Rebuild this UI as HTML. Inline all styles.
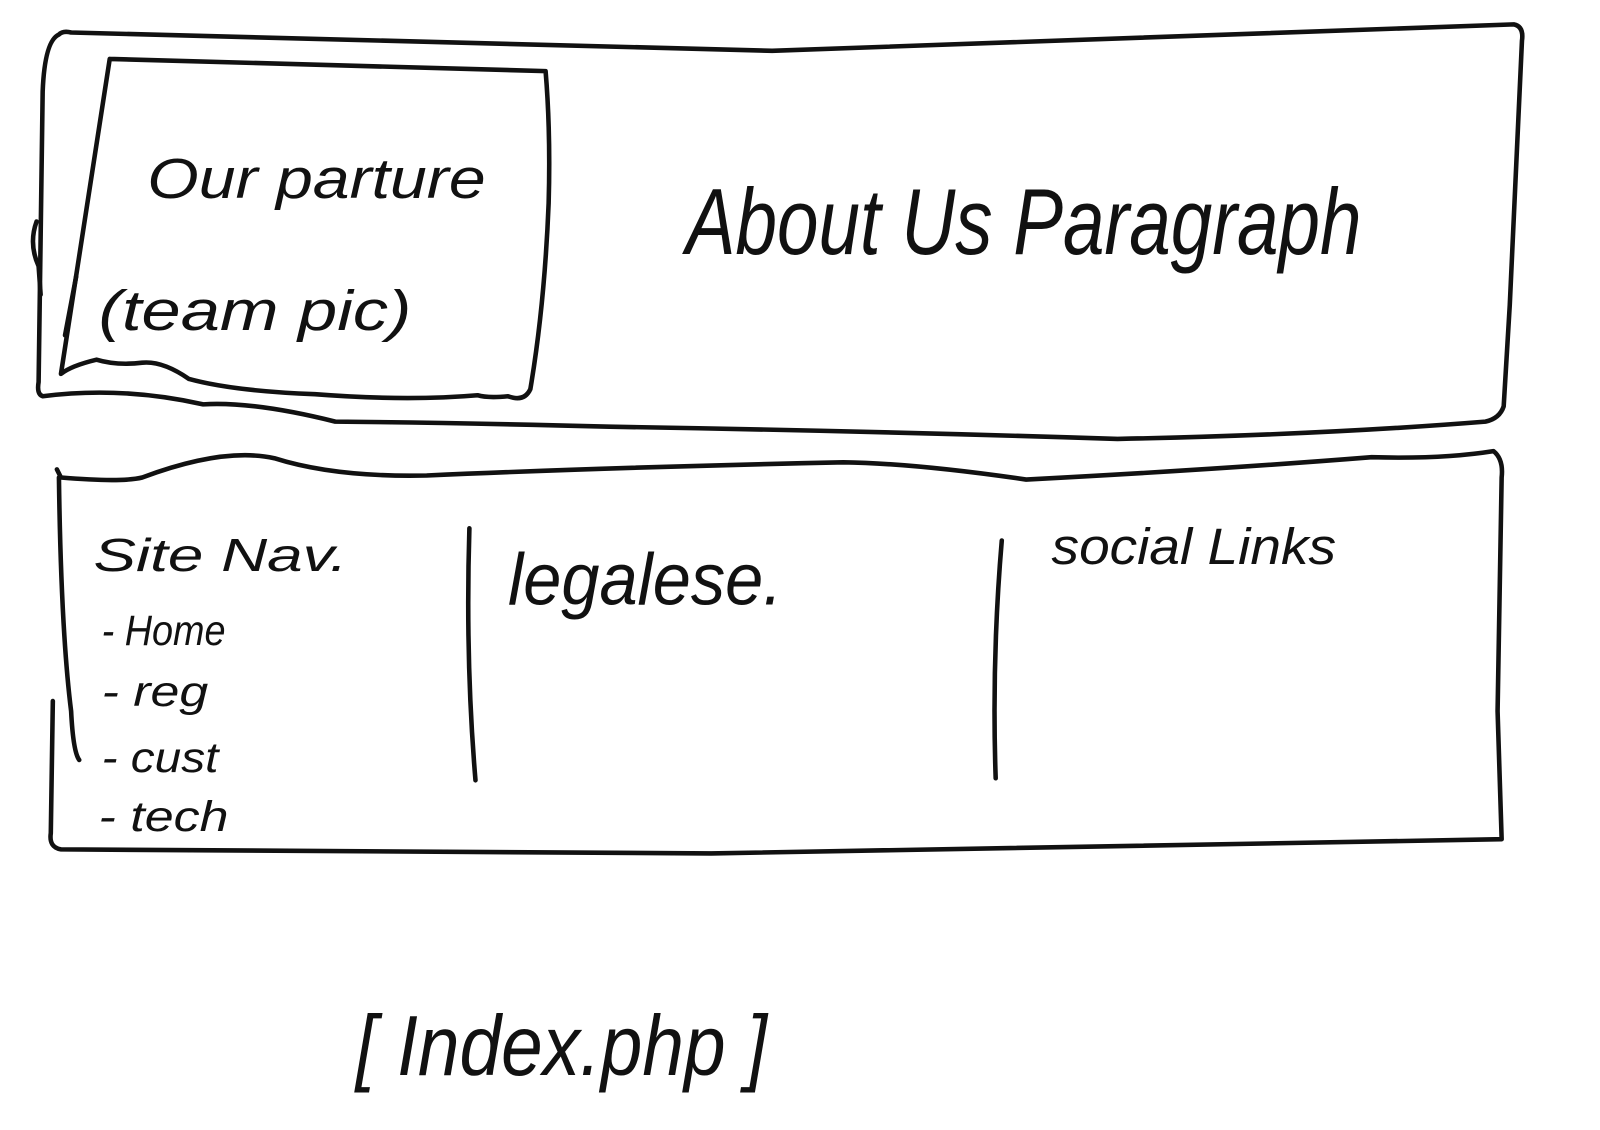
<!DOCTYPE html>
<html><head><meta charset="utf-8"><style>
html,body{margin:0;padding:0;background:#fff;}
svg{display:block}
text{font-family:"Liberation Sans",sans-serif;fill:#111;}
</style></head><body>
<svg width="1600" height="1130" viewBox="0 0 1600 1130" xmlns="http://www.w3.org/2000/svg">
<g transform="scale(1.016)">
<g fill="none" stroke="#111" stroke-width="4.5" stroke-linecap="round" stroke-linejoin="round">
<path d="M58 34 Q62 30 70 32 L760 50 L1490 24 Q1500 26 1498 40 L1486 300 L1480 400 Q1476 412 1462 415 Q1300 428 1100 432 Q850 424 600 420 Q450 416 330 415 Q250 395 200 398 Q120 380 42 390 Q36 388 38 376 L42 90 Q44 40 58 34"/>
<path d="M36 218 Q28 240 38 262 L40 290"/>
<path d="M108 58 L537 70 Q542 130 540 200 Q536 300 522 383 Q516 396 500 390 Q480 392 470 389 Q400 395 310 388 Q230 385 186 373 Q160 355 140 357 Q115 360 95 354 Q70 360 60 368 L108 58"/>
<path d="M75 272 L64 330"/>
<path d="M56 462 L60 470 Q120 475 140 470 Q220 440 270 451 Q330 470 420 468 Q600 460 830 455 Q900 456 1010 472 Q1200 462 1350 450 Q1420 452 1470 444 Q1480 452 1478 470 L1474 700 L1478 826 L700 840 L60 836 Q48 834 50 820 L52 690"/>
<path d="M58 470 Q60 620 70 700 Q72 740 78 748"/>
<path d="M462 520 Q458 650 468 768"/>
<path d="M986 532 Q976 650 980 766"/>
</g>
<text x="145" y="195" font-size="56" font-style="italic" textLength="333" lengthAdjust="spacingAndGlyphs">Our parture</text>
<text x="97" y="325" font-size="56" font-style="italic" textLength="308" lengthAdjust="spacingAndGlyphs">(team pic)</text>
<text x="675" y="250" font-size="92" font-style="italic" textLength="665" lengthAdjust="spacingAndGlyphs">About Us Paragraph</text>
<text x="92" y="562" font-size="46" font-style="italic" textLength="250" lengthAdjust="spacingAndGlyphs">Site Nav.</text>
<text x="100" y="635" font-size="42" font-style="italic" textLength="122" lengthAdjust="spacingAndGlyphs">- Home</text>
<text x="100" y="695" font-size="42" font-style="italic" textLength="105" lengthAdjust="spacingAndGlyphs">- reg</text>
<text x="100" y="760" font-size="42" font-style="italic" textLength="115" lengthAdjust="spacingAndGlyphs">- cust</text>
<text x="97" y="818" font-size="42" font-style="italic" textLength="128" lengthAdjust="spacingAndGlyphs">- tech</text>
<text x="500" y="595" font-size="72" font-style="italic" textLength="270" lengthAdjust="spacingAndGlyphs">legalese.</text>
<text x="1035" y="555" font-size="50" font-style="italic" textLength="280" lengthAdjust="spacingAndGlyphs">social Links</text>
<text x="350" y="1058" font-size="84" font-style="italic" textLength="405" lengthAdjust="spacingAndGlyphs">[ Index.php ]</text>
</g>
</svg>
</body></html>
